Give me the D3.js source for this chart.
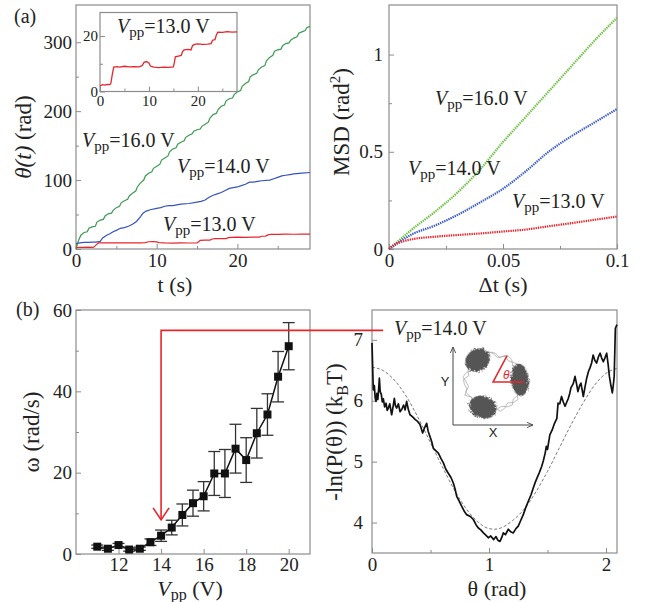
<!DOCTYPE html>
<html>
<head>
<meta charset="utf-8">
<script src="https://cdn.jsdelivr.net/npm/d3@7"></script>
<style>
body { margin: 0; background: #fff; }
svg { display: block; }
text { font-family: "Liberation Serif", "DejaVu Serif", serif; fill: #222; }
</style>
</head>
<body>
<div id="fig"></div>
<script>
// ---- (a) left : theta(t) ----
const thetaGreen = [[0,0],[0.3,12],[0.6,20],[1,24],[1.4,25],[1.6,30],[2,32],[2.4,33],[2.6,39],[3,42],[3.4,43],[3.6,48],[4,51],[4.4,52],[4.6,56],[5,60],[5.4,62],[5.6,67],[6,70],[6.4,72],[6.6,77],[7,81],[7.4,84],[7.6,90],[8,96],[8.4,100],[8.6,106],[9,110],[9.4,112],[9.6,117],[10,120],[10.4,123],[10.6,129],[11,132],[11.4,135],[11.6,141],[12,145],[12.4,147],[12.6,152],[13,155],[13.4,157],[13.6,162],[14,165],[14.4,167],[14.6,171],[15,173],[15.4,174],[15.6,178],[16,181],[16.4,184],[16.6,190],[17,195],[17.4,197],[17.6,202],[18,207],[18.4,209],[18.6,215],[19,218],[19.4,219],[19.6,224],[20,228],[20.4,230],[20.6,236],[21,240],[21.4,243],[21.6,250],[22,253],[22.4,255],[22.6,260],[23,264],[23.4,266],[23.6,273],[24,278],[24.4,281],[24.6,287],[25,289],[25.4,290],[25.6,295],[26,298],[26.4,299],[26.6,303],[27,306],[27.4,308],[27.6,313],[28,315],[28.4,317],[28.6,321],[29,323]]
const thetaBlue = [[0,8],[0.5,9],[1,9.5],[1.5,9.5],[2,10],[2.5,10],[3,11],[3.3,16],[3.8,20],[4.2,22],[4.6,25],[5,27],[5.5,30],[6,31],[6.5,33],[7,36],[7.5,40],[8,47],[8.3,52],[8.7,55],[9.2,57],[10,59],[10.5,60],[11,62],[11.5,63],[12,63],[12.5,64],[13,65],[14,66],[15,68],[15.5,69],[16,71],[16.5,75],[17,78],[17.5,80],[18,82],[18.5,85],[19,88],[19.5,89],[20,90],[20.5,92],[21,94],[21.5,97],[22,97],[22.5,98],[23,99],[24,100],[24.5,102],[25,104],[25.5,106],[26,107],[26.5,108],[27,109],[28,110],[29,111]]
const thetaRed = [[0,2],[0.5,2.5],[1,2.3],[1.5,2.6],[2,2.5],[2.2,2.8],[2.5,6],[2.8,8.8],[3.5,9],[4,8.8],[5,9.1],[6,8.9],[7,9],[8,8.9],[8.6,9.3],[9,10.5],[9.5,10.8],[10,10.3],[10.3,9.2],[11,8.8],[12,8.6],[13,8.8],[14,8.7],[15,8.9],[15.2,10.5],[15.4,12.5],[16,12.8],[16.6,13],[16.9,14.5],[17.2,15],[18,15.2],[18.6,15],[18.9,16.5],[19.3,17],[20,17.2],[21,17],[22,17.1],[22.7,17.3],[23,18.5],[23.5,18.7],[23.8,20.5],[24.1,21.4],[25,21.3],[26,21.6],[27,21.4],[28,21.5],[29,21.6]]

// ---- (a) right : MSD ----
const dtVals = [0,0.002,0.005,0.01,0.02,0.03,0.04,0.05,0.06,0.07,0.08,0.09,0.1]
const msdGreen = [0,0.02,0.05,0.10,0.19,0.29,0.41,0.55,0.68,0.81,0.94,1.07,1.19]
const msdBlue  = [0,0.015,0.04,0.075,0.12,0.175,0.24,0.31,0.40,0.50,0.58,0.65,0.72]
const msdRed   = [0,0.02,0.035,0.05,0.063,0.072,0.08,0.09,0.10,0.117,0.133,0.15,0.167]

// ---- (b) left : omega vs Vpp ----
const vpp   = [11,11.5,12,12.5,13,13.5,14,14.5,15,15.5,16,16.5,17,17.5,18,18.5,19,19.5,20]
const omega = [1.8,1.3,2.2,1.1,1.3,2.9,4.5,6.5,9.6,12.5,14.2,19.8,19.8,25.9,23.1,29.7,34.3,43.6,51.1]
const omegaErr = [0.4,0.4,0.4,0.4,0.4,0.8,1.4,1.8,2.7,3.2,3.6,5.4,5.9,6.0,5.5,6.1,5.1,6.2,5.8]

// ---- (b) right : -ln P(theta) ----
const thObs = [0,0.005,0.011,0.02,0.027,0.034,0.042,0.05,0.057,0.063,0.07,0.08,0.088,0.097,0.108,0.12,0.13,0.14,0.152,0.168,0.18,0.191,0.2,0.211,0.225,0.24,0.255,0.27,0.283,0.296,0.31,0.325,0.345,0.37,0.39,0.41,0.425,0.433,0.45,0.467,0.48,0.496,0.51,0.524,0.545,0.567,0.59,0.61,0.63,0.652,0.675,0.695,0.71,0.724,0.745,0.766,0.79,0.809,0.84,0.866,0.89,0.909,0.93,0.952,0.975,0.994,1.015,1.04,1.06,1.075,1.094,1.11,1.122,1.14,1.165,1.185,1.208,1.23,1.25,1.27,1.293,1.315,1.336,1.36,1.379,1.395,1.41,1.43,1.45,1.465,1.48,1.49,1.5,1.52,1.54,1.56,1.58,1.59,1.605,1.62,1.635,1.65,1.665,1.678,1.69,1.70,1.72,1.735,1.748,1.76,1.775,1.786,1.796,1.806,1.82,1.835,1.85,1.863,1.877,1.89,1.905,1.92,1.935,1.95,1.963,1.977,1.99,2.006,2.018,2.029,2.042,2.054,2.062,2.07,2.08,2.094]
const lnObs = [6.95,6.6,6.18,6.25,6.05,5.99,6.12,6.02,6.2,6.37,6.15,6.10,5.98,6.03,5.9,5.96,5.84,5.88,5.95,5.77,5.9,6.04,5.92,5.88,5.95,5.82,5.86,5.93,5.85,5.99,5.86,5.77,5.74,5.69,5.66,5.61,5.52,5.47,5.56,5.63,5.5,5.41,5.33,5.22,5.18,5.14,5.05,4.98,4.88,4.81,4.74,4.65,4.55,4.43,4.35,4.27,4.18,4.13,4.1,4.05,3.96,3.91,3.88,3.83,3.79,3.75,3.78,3.72,3.77,3.71,3.69,3.76,3.83,3.8,3.89,3.85,3.83,3.9,3.94,4.03,4.13,4.25,4.35,4.46,4.57,4.66,4.73,4.82,4.92,5.02,5.14,5.25,5.2,5.44,5.52,5.63,5.71,5.96,5.95,6.07,5.98,5.91,5.98,6.04,6.12,6.21,6.28,6.40,6.28,6.15,6.25,6.29,6.18,6.07,6.22,6.37,6.48,6.54,6.62,6.75,6.66,6.62,6.72,6.78,6.7,6.64,6.7,6.78,6.6,6.40,6.25,6.13,6.25,6.40,7.19,7.25]
const thFit = [0,0.1,0.2,0.3,0.4,0.5,0.6,0.7,0.8,0.9,1.0,1.05,1.1,1.2,1.3,1.4,1.5,1.6,1.7,1.8,1.9,2.0,2.094]
const lnFit = [6.55,6.49,6.32,6.05,5.70,5.31,4.92,4.55,4.24,4.02,3.90,3.89,3.91,4.03,4.22,4.50,4.84,5.22,5.60,5.95,6.25,6.45,6.53]

// inset sketch (b) right: ring trace and particle clusters
const ringA = [1.05,0.98,1.1,1.02,0.95,1.08,1.12,1.0,0.93,1.06,1.15,1.03,0.97,1.09,1.0,0.9,1.04,1.13,0.99,0.92,1.07,1.01,0.96,1.1,1.04,0.94,1.08,1.14,1.0,0.95,1.06,1.11,0.98,1.03,1.09,0.97]
const ringB = [0.96,1.09,1.01,1.14,1.04,0.97,1.1,0.94,1.07,1.12,0.99,1.05,1.13,0.95,1.08,1.02,0.93,1.1,1.06,1.0,1.15,0.97,1.03,1.08,0.95,1.11,1.02,0.98,1.12,1.05,0.94,1.07,1.13,0.99,1.04,1.1]
const blobs = [{a:5, rr:9, rt:16}, {a:125, rr:11, rt:13}, {a:248, rr:11, rt:14}]

const gray = '#8c8c8c'
const svg = d3.select('#fig').append('svg').attr('width', 645).attr('height', 602)
  .attr('font-family', '"Liberation Serif", "DejaVu Serif", serif')

const defs = svg.append('defs')
const fz = defs.append('filter').attr('id', 'fuzz').attr('x', '-30%').attr('y', '-30%').attr('width', '160%').attr('height', '160%')
fz.append('feTurbulence').attr('type', 'fractalNoise').attr('baseFrequency', 0.8).attr('numOctaves', 2).attr('result', 'n')
fz.append('feDisplacementMap').attr('in', 'SourceGraphic').attr('in2', 'n').attr('scale', 6)
fz.append('feGaussianBlur').attr('stdDeviation', 0.7)
defs.append('marker').attr('id', 'arr').attr('viewBox', '0 0 10 10').attr('refX', 9).attr('refY', 5)
  .attr('markerWidth', 7).attr('markerHeight', 7).attr('orient', 'auto')
  .append('path').attr('d', 'M0,1 L9,5 L0,9').attr('fill', 'none').attr('stroke', '#444').attr('stroke-width', 1.3)

// frame with inward ticks on left and bottom
function frame(x, y, o) {
  const g = svg.append('g')
  const [y0] = y.range(), [x0] = x.range()
  const style = sel => {
    sel.select('.domain').remove()
    sel.selectAll('line').attr('stroke', gray)
    sel.attr('font-family', null).attr('font-size', o.fs || 19)
    sel.selectAll('text').attr('fill', '#222')
  }
  if (o.xMinor) g.append('g').attr('transform', `translate(0,${y0})`)
    .call(d3.axisBottom(x).tickValues(o.xMinor).tickSize(-3).tickFormat('')).call(style)
  g.append('g').attr('transform', `translate(0,${y0})`)
    .call(d3.axisBottom(x).tickValues(o.xTicks).tickSize(-5).tickPadding(o.xPad || 5).tickFormat(d => String(d))).call(style)
  if (o.yMinor) g.append('g').attr('transform', `translate(${x0},0)`)
    .call(d3.axisLeft(y).tickValues(o.yMinor).tickSize(-3).tickFormat('')).call(style)
  g.append('g').attr('transform', `translate(${x0},0)`)
    .call(d3.axisLeft(y).tickValues(o.yTicks).tickSize(-5).tickPadding(o.yPad || 4).tickFormat(d => String(d))).call(style)
  g.append('rect').attr('x', x.range()[0]).attr('y', y.range()[1])
    .attr('width', x.range()[1] - x.range()[0]).attr('height', y.range()[0] - y.range()[1])
    .attr('fill', 'none').attr('stroke', gray).attr('stroke-width', 1.2)
  return g
}

function vppLabel(x, y, val, size) {
  const t = svg.append('text').attr('x', x).attr('y', y).attr('font-size', size)
  t.append('tspan').attr('font-style', 'italic').text('V')
  t.append('tspan').attr('font-size', size * 0.75).attr('dy', size * 0.22).text('pp')
  t.append('tspan').attr('dy', -size * 0.22).text('=' + val + ' V')
  return t
}

function yTitle(cx, cy) {
  return svg.append('text').attr('transform', `translate(${cx},${cy}) rotate(-90)`)
    .attr('text-anchor', 'middle').attr('font-size', 23)
}

// ===== (a) left =====
const xA = d3.scaleLinear().domain([0, 29]).range([76, 310])
const yA = d3.scaleLinear().domain([0, 354]).range([249, 5])
frame(xA, yA, { xTicks: [0, 10, 20], xMinor: [5, 15, 25], yTicks: [0, 100, 200, 300], yMinor: [50, 150, 250] })
const lineA = d3.line().x(d => xA(d[0])).y(d => yA(d[1]))
;[[thetaGreen, '#3c9a52'], [thetaBlue, '#3552c0'], [thetaRed, '#e8252c']].forEach(([d, c]) => {
  svg.append('path').datum(d).attr('d', lineA).attr('fill', 'none').attr('stroke', c).attr('stroke-width', 1.2)
})
vppLabel(82, 147, '16.0', 20)
vppLabel(177, 173, '14.0', 20)
vppLabel(163, 231, '13.0', 20)

// inset
const xI = d3.scaleLinear().domain([0, 28]).range([100, 237])
const yI = d3.scaleLinear().domain([0, 28.5]).range([91.5, 12.5])
svg.append('rect').attr('x', 100).attr('y', 12.5).attr('width', 137).attr('height', 79).attr('fill', '#fff')
frame(xI, yI, { xTicks: [0, 10, 20], xMinor: [5, 15, 25], yTicks: [0, 20], yMinor: [10], fs: 15, xPad: 4, yPad: 2 })
svg.append('path').datum(thetaRed.filter(d => d[0] <= 28)).attr('d', d3.line().x(d => xI(d[0])).y(d => yI(d[1])))
  .attr('fill', 'none').attr('stroke', '#e8252c').attr('stroke-width', 1.3)
vppLabel(117, 33, '13.0', 20)

svg.append('text').attr('x', 14).attr('y', 23).attr('font-size', 20).text('(a)')
svg.append('text').attr('x', 175).attr('y', 292).attr('text-anchor', 'middle').attr('font-size', 22).text('t (s)')
const tA = yTitle(31, 137)
tA.append('tspan').attr('font-style', 'italic').text('θ(t)')
tA.append('tspan').text(' (rad)')

// ===== (a) right =====
const xM = d3.scaleLinear().domain([0, 0.1]).range([389, 617])
const yM = d3.scaleLinear().domain([0, 1.255]).range([249, 5])
frame(xM, yM, { xTicks: [0, 0.05, 0.1], xMinor: [0.025, 0.075], yTicks: [0, 0.5, 1], yMinor: [0.25, 0.75], yPad: 6 })
const lineM = vals => d3.line().x((d, i) => xM(dtVals[i])).y(d => yM(d)).curve(d3.curveMonotoneX)(vals)
;[[msdGreen, '#6cc040'], [msdBlue, '#3a5cc8'], [msdRed, '#e8282e']].forEach(([d, c]) => {
  svg.append('path').attr('d', lineM(d)).attr('fill', 'none').attr('stroke', c)
    .attr('stroke-width', 2.2).attr('stroke-dasharray', '1.4,0.9')
})
vppLabel(435, 105, '16.0', 20)
vppLabel(408, 175, '14.0', 20)
vppLabel(512, 208, '13.0', 20)
svg.append('text').attr('x', 503).attr('y', 292).attr('text-anchor', 'middle').attr('font-size', 22).text('Δt (s)')
const tM = yTitle(349, 122)
tM.append('tspan').text('MSD (rad')
tM.append('tspan').attr('font-size', 15).attr('dy', -9).text('2')
tM.append('tspan').attr('dy', 9).text(')')

// ===== (b) left =====
const xB = d3.scaleLinear().domain([10, 21]).range([76, 310])
const yB = d3.scaleLinear().domain([0, 60]).range([554, 310])
frame(xB, yB, { xTicks: [12, 14, 16, 18, 20], yTicks: [0, 20, 40, 60], yMinor: [10, 30, 50], xPad: 4 })
const gB = svg.append('g')
gB.append('path').datum(vpp.map((v, i) => [v, omega[i]]))
  .attr('d', d3.line().x(d => xB(d[0])).y(d => yB(d[1])))
  .attr('fill', 'none').attr('stroke', '#111').attr('stroke-width', 1.5)
const eb = gB.selectAll('g.eb').data(vpp.map((v, i) => ({ v, w: omega[i], e: omegaErr[i] }))).enter().append('g')
eb.append('line').attr('x1', d => xB(d.v)).attr('x2', d => xB(d.v))
  .attr('y1', d => yB(d.w - d.e)).attr('y2', d => yB(d.w + d.e)).attr('stroke', '#333').attr('stroke-width', 1.3)
;['lo', 'hi'].forEach(k => {
  eb.append('line').attr('x1', d => xB(d.v) - 6).attr('x2', d => xB(d.v) + 6)
    .attr('y1', d => yB(k === 'lo' ? d.w - d.e : d.w + d.e)).attr('y2', d => yB(k === 'lo' ? d.w - d.e : d.w + d.e))
    .attr('stroke', '#333').attr('stroke-width', 1.3)
})
eb.append('rect').attr('x', d => xB(d.v) - 4).attr('y', d => yB(d.w) - 4).attr('width', 8).attr('height', 8).attr('fill', '#111')

// ===== (b) right =====
const xP = d3.scaleLinear().domain([0, 2.094]).range([372, 617])
const yP = d3.scaleLinear().domain([3.5, 7.49]).range([553, 310])
frame(xP, yP, { xTicks: [0, 1, 2], xMinor: [0.5, 1.5], yTicks: [4, 5, 6, 7], xPad: 5, yPad: 9 })
svg.append('path').attr('d', d3.line().x((d, i) => xP(thFit[i])).y(d => yP(d)).curve(d3.curveMonotoneX)(lnFit))
  .attr('fill', 'none').attr('stroke', '#777').attr('stroke-width', 1).attr('stroke-dasharray', '3,2')
svg.append('path').attr('d', d3.line().x((d, i) => xP(thObs[i])).y(d => yP(d))(lnObs))
  .attr('fill', 'none').attr('stroke', '#111').attr('stroke-width', 1.7).attr('stroke-linejoin', 'round')

// red arrow linking (b) panels
const yArrow = 55
const arrowPts = [[xP(0.095), yB(yArrow)], [xB(14), yB(yArrow)], [xB(14), yB(8.4)]]
svg.append('path').attr('d', d3.line()(arrowPts)).attr('fill', 'none').attr('stroke', '#e8252c').attr('stroke-width', 1.6)
const tip = arrowPts[2]
svg.append('path').attr('d', d3.line()([[tip[0] - 8, tip[1] - 12], tip, [tip[0] + 8, tip[1] - 12]]))
  .attr('fill', 'none').attr('stroke', '#e8252c').attr('stroke-width', 1.6)
vppLabel(394, 335, '14.0', 20)

// inset sketch
const ix = d3.scaleLinear().domain([0, 1]).range([453, 533])
const iy = d3.scaleLinear().domain([0, 1]).range([425, 347])
const cX = 0.5, cY = 0.55, R = 27
const cx = ix(cX), cy = iy(cY)
const gS = svg.append('g')
const ringLine = d3.line().curve(d3.curveLinearClosed)
;[ringA, ringB].forEach((rs, k) => {
  const pts = rs.map((r, i) => {
    const a = (i * 10 + k * 5) * Math.PI / 180
    return [cx + R * r * Math.cos(a), cy - R * r * Math.sin(a)]
  })
  gS.append('path').attr('d', ringLine(pts)).attr('fill', 'none').attr('stroke', '#a0a0a0').attr('stroke-width', 0.7)
})
blobs.forEach(b => {
  const a = b.a * Math.PI / 180
  const bx = cx + R * Math.cos(a), by = cy - R * Math.sin(a)
  gS.append('ellipse').attr('cx', bx).attr('cy', by)
    .attr('rx', b.rr).attr('ry', b.rt).attr('transform', `rotate(${-b.a},${bx},${by})`)
    .attr('fill', '#555').attr('filter', 'url(#fuzz)')
})
gS.append('line').attr('x1', ix(0)).attr('y1', iy(0)).attr('x2', ix(0)).attr('y2', iy(1))
  .attr('stroke', '#444').attr('stroke-width', 1).attr('marker-end', 'url(#arr)')
gS.append('line').attr('x1', ix(0)).attr('y1', iy(0)).attr('x2', ix(1)).attr('y2', iy(0))
  .attr('stroke', '#444').attr('stroke-width', 1).attr('marker-end', 'url(#arr)')
gS.append('text').attr('x', ix(-0.1)).attr('y', iy(0.5)).attr('text-anchor', 'middle').attr('font-size', 13)
  .style('font-family', '"Liberation Sans", Arial, sans-serif').text('Y')
gS.append('text').attr('x', ix(0.5)).attr('y', iy(-0.16)).attr('text-anchor', 'middle').attr('font-size', 13)
  .style('font-family', '"Liberation Sans", Arial, sans-serif').text('X')
const thA = 62 * Math.PI / 180
gS.append('path').attr('d', d3.line()([[cx + 30 * Math.cos(thA), cy - 30 * Math.sin(thA)], [cx, cy], [cx + 31, cy]]))
  .attr('fill', 'none').attr('stroke', '#e8252c').attr('stroke-width', 1.5)
gS.append('text').attr('x', cx + 10).attr('y', cy - 3).attr('font-size', 12).attr('font-style', 'italic')
  .style('font-family', '"Liberation Sans", Arial, sans-serif').style('fill', '#e8252c').text('θ')

svg.append('text').attr('x', 16).attr('y', 316).attr('font-size', 20).text('(b)')
const tB = svg.append('text').attr('x', 190).attr('y', 596).attr('text-anchor', 'middle').attr('font-size', 22)
tB.append('tspan').attr('font-style', 'italic').text('V')
tB.append('tspan').attr('font-size', 16).attr('dy', 4).text('pp')
tB.append('tspan').attr('dy', -4).text(' (V)')
yTitle(39, 432).text('ω (rad/s)')
svg.append('text').attr('x', 497).attr('y', 596).attr('text-anchor', 'middle').attr('font-size', 22).text('θ (rad)')
const tP = yTitle(342, 432)
tP.append('tspan').text('-ln(P(θ)) (k')
tP.append('tspan').attr('font-size', 16).attr('dy', 6).text('B')
tP.append('tspan').attr('dy', -6).text('T)')
</script>
</body>
</html>
